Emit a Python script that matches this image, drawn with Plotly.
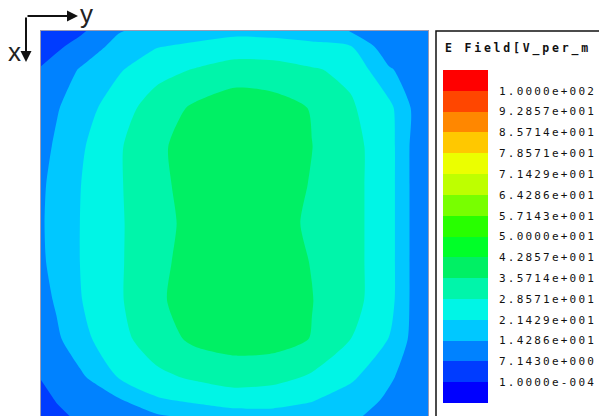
import plotly.graph_objects as go

W, H = 599, 416

# Sample positions across (u, left->right) and down (v, top->bottom) the section, normalised 0..1
grid_u = [0.0, 0.04, 0.10, 0.20, 0.30, 0.40, 0.50, 0.60, 0.70, 0.80, 0.90, 0.96, 1.0]
grid_v = [0.0, 0.04, 0.10, 0.20, 0.30, 0.40, 0.50, 0.60, 0.70, 0.80, 0.90, 0.96, 1.0]

# |E| in V/m on the grid, one list per row (top row first)
e_row_00 = [2.0, 3.5, 5.8, 13.8, 17.1, 18.5, 19.8, 19.6, 18.1, 14.1, 11.5, 10.2, 9.0]
e_row_01 = [4.3, 5.8, 9.7, 16.6, 21.1, 22.7, 24.2, 23.7, 23.0, 21.8, 9.5, 9.4, 9.3]
e_row_02 = [7.6, 10.5, 14.7, 20.6, 26.2, 29.0, 32.0, 31.8, 29.2, 27.0, 15.0, 11.2, 10.0]
e_row_03 = [11.0, 13.7, 17.9, 25.4, 32.0, 37.0, 39.8, 38.5, 35.35, 29.5, 23.3, 13.5, 10.5]
e_row_04 = [12.0, 15.3, 20.3, 27.6, 35.15, 37.1, 39.1, 37.9, 35.8, 31.0, 24.2, 12.8, 11.0]
e_row_05 = [13.3, 16.3, 21.2, 27.7, 34.7, 37.4, 40.1, 38.2, 35.4, 31.0, 24.2, 12.8, 11.0]
e_row_06 = [13.6, 16.6, 21.4, 27.5, 34.2, 37.2, 40.3, 38.1, 34.7, 31.0, 24.2, 12.8, 11.0]
e_row_07 = [13.3, 16.3, 21.4, 27.5, 34.7, 37.4, 40.0, 38.3, 35.5, 31.0, 24.2, 12.8, 11.0]
e_row_08 = [11.4, 15.2, 21.0, 27.5, 35.2, 37.2, 39.1, 37.9, 35.9, 31.0, 24.0, 12.8, 10.8]
e_row_09 = [9.8, 12.9, 19.1, 26.3, 32.5, 37.3, 38.5, 38.5, 35.45, 28.6, 21.2, 12.5, 10.5]
e_row_10 = [7.4, 9.5, 12.7, 21.6, 26.9, 29.6, 32.0, 31.0, 27.5, 22.8, 15.0, 11.9, 10.0]
e_row_11 = [5.0, 7.4, 9.6, 13.3, 20.3, 22.7, 24.2, 23.5, 21.8, 17.6, 13.2, 11.2, 9.8]
e_row_12 = [3.0, 5.8, 8.2, 10.8, 13.4, 16.1, 18.7, 19.4, 18.0, 15.3, 12.1, 10.3, 9.0]

e_field = [e_row_00, e_row_01, e_row_02, e_row_03, e_row_04, e_row_05, e_row_06,
           e_row_07, e_row_08, e_row_09, e_row_10, e_row_11, e_row_12]

# Contour levels and their legend labels (lowest first)
level_min = 1.0e-4
level_max = 100.0
n_levels = 15
level_labels = ["1.0000e-004", "7.1430e+000", "1.4286e+001", "2.1429e+001", "2.8571e+001",
                "3.5714e+001", "4.2857e+001", "5.0000e+001", "5.7143e+001", "6.4286e+001",
                "7.1429e+001", "7.8571e+001", "8.5714e+001", "9.2857e+001", "1.0000e+002"]

# Band colours, lowest band first (16 bands for 15 levels)
band_colors = ["#0000ff", "#003cff", "#0082ff", "#00c8ff", "#00f5e6", "#00f5aa",
               "#00f064", "#00ff28", "#28ff00", "#78ff00", "#beff00", "#ebff00",
               "#ffc800", "#ff8700", "#ff4600", "#ff0000"]
colorscale = [[k / (len(band_colors) - 1), c] for k, c in enumerate(band_colors)]

fig = go.Figure()

fig.add_trace(go.Contour(
    x=grid_u, y=grid_v, z=e_field,
    colorscale=colorscale,
    contours=dict(start=level_min, end=level_max,
                  size=(level_max - level_min) / (n_levels - 1),
                  coloring="fill", showlines=False),
    line=dict(width=0, smoothing=0.7),
    showscale=False, hoverinfo="skip",
    xaxis="x", yaxis="y",
))

# Colour key: one cell per band, labels sit on the band boundaries
band_index = list(range(len(band_colors)))
fig.add_trace(go.Heatmap(
    x=[0], y=band_index, z=[[k] for k in band_index],
    colorscale=colorscale, zmin=0, zmax=len(band_colors) - 1,
    showscale=False, hoverinfo="skip",
    xaxis="x2", yaxis="y2",
))

mono = "DejaVu Sans Mono"
tick_text = ['<span style="letter-spacing:2.2px">%s</span>' % s for s in level_labels]

fig.update_layout(
    width=W, height=H,
    margin=dict(l=0, r=0, t=0, b=0),
    paper_bgcolor="white", plot_bgcolor="white",
    showlegend=False,
    xaxis=dict(domain=[41 / W, 428 / W], range=[0, 1], showgrid=False, zeroline=False,
               showticklabels=False, ticks="", showline=True, mirror=True,
               linecolor="#9a9ab4", linewidth=1),
    yaxis=dict(domain=[0, 385 / H], range=[1, 0], showgrid=False, zeroline=False,
               showticklabels=False, ticks="", showline=True, mirror=True,
               linecolor="#9a9ab4", linewidth=1),
    xaxis2=dict(domain=[443 / W, 488 / W], range=[-0.5, 0.5], visible=False, anchor="y2"),
    yaxis2=dict(domain=[13 / H, 346 / H], range=[-0.5, 15.5], anchor="x2", side="right",
                tickvals=[k + 0.5 for k in range(n_levels)], ticktext=tick_text,
                ticks="", showline=False, showgrid=False, zeroline=False,
                ticklabelstandoff=10,
                tickfont=dict(family=mono, size=11, color="#111")),
    shapes=[
        dict(type="rect", xref="paper", yref="paper", x0=436 / W, x1=1.02,
             y0=-0.02, y1=385 / H, line=dict(color="#111", width=1.5),
             fillcolor="rgba(0,0,0,0)", layer="below"),
    ],
    annotations=[
        dict(text='<span style="letter-spacing:2.8px"><b>E Field[V_per_m</b></span>',
             xref="paper", yref="paper", x=443 / W, y=(H - 48) / H,
             xanchor="left", yanchor="middle", showarrow=False,
             font=dict(family=mono, size=11.5, color="#111")),
        # coordinate triad: y to the right, x downward
        dict(text="", xref="paper", yref="paper", x=78 / W, y=(H - 16) / H,
             ax=-52, ay=0, axref="pixel", ayref="pixel", showarrow=True,
             arrowhead=2, arrowsize=1.1, arrowwidth=2, arrowcolor="#111", standoff=0),
        dict(text="", xref="paper", yref="paper", x=26 / W, y=(H - 62) / H,
             ax=0, ay=-46, axref="pixel", ayref="pixel", showarrow=True,
             arrowhead=2, arrowsize=1.1, arrowwidth=2, arrowcolor="#111", standoff=0),
        dict(text="y", xref="paper", yref="paper", x=86 / W, y=(H - 14) / H,
             xanchor="center", yanchor="middle", showarrow=False,
             font=dict(family="Liberation Sans", size=26, color="#222")),
        dict(text="x", xref="paper", yref="paper", x=14 / W, y=(H - 52) / H,
             xanchor="center", yanchor="middle", showarrow=False,
             font=dict(family="Liberation Sans", size=26, color="#222")),
    ],
)

fig.write_html("out.html")
